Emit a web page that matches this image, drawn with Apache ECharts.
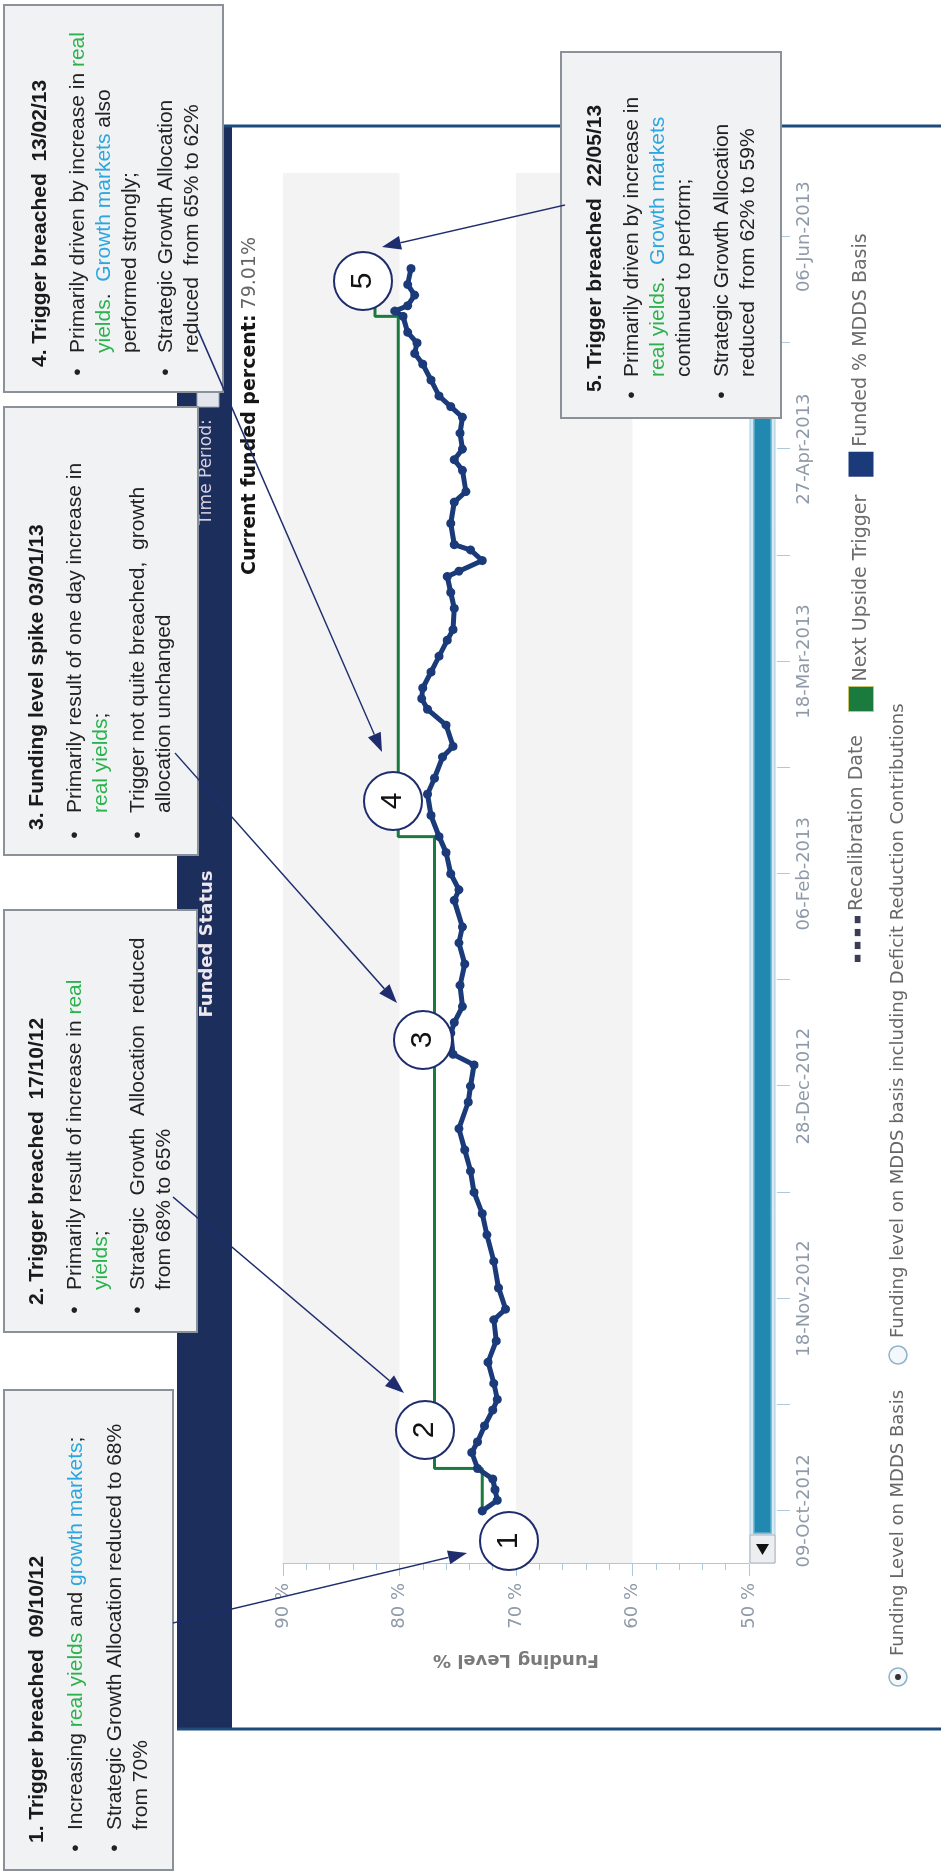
<!DOCTYPE html>
<html>
<head>
<meta charset="utf-8">
<script src="https://cdn.jsdelivr.net/npm/echarts@6/dist/echarts.min.js"></script>
<style>
  html, body { margin: 0; padding: 0; background: #ffffff; width: 941px; height: 1872px; overflow: hidden; }
  /* the widget is laid out landscape and turned a quarter turn anticlockwise */
  #chart { position: absolute; left: 0; top: 0; width: 1872px; height: 941px;
           transform-origin: 0 0; transform: translate(0, 1872px) rotate(-90deg); }
</style>
</head>
<body>
<div id="chart"></div>
<script>
// ---- funding level, MDDS basis (%) ----
const levelDates = [
  '2012-10-09','2012-10-11','2012-10-13','2012-10-15','2012-10-17','2012-10-20','2012-10-22','2012-10-25',
  '2012-10-28','2012-10-30','2012-11-02','2012-11-06','2012-11-10','2012-11-14','2012-11-16','2012-11-20',
  '2012-11-25','2012-11-30','2012-12-04','2012-12-08','2012-12-12','2012-12-16','2012-12-20','2012-12-25',
  '2012-12-28','2013-01-01','2013-01-03','2013-01-07','2013-01-09','2013-01-12','2013-01-16','2013-01-20',
  '2013-01-24','2013-01-27','2013-02-01','2013-02-03','2013-02-06','2013-02-10','2013-02-13','2013-02-17',
  '2013-02-21','2013-02-24','2013-02-28','2013-03-02','2013-03-06','2013-03-09','2013-03-11','2013-03-13',
  '2013-03-16','2013-03-19','2013-03-22','2013-03-24','2013-03-28','2013-03-31','2013-04-03','2013-04-04',
  '2013-04-06','2013-04-08','2013-04-09','2013-04-13','2013-04-17','2013-04-19','2013-04-23','2013-04-25',
  '2013-04-27','2013-04-30','2013-05-03','2013-05-05','2013-05-07','2013-05-10','2013-05-13','2013-05-15',
  '2013-05-17','2013-05-19','2013-05-22','2013-05-23','2013-05-24','2013-05-26','2013-05-28','2013-05-31'
];
const levelValues = [
  72.9, 71.6, 71.8, 72.0, 73.3, 73.8, 73.3, 72.7,
  72.0, 71.6, 71.9, 72.4, 71.7, 71.9, 70.9, 71.5,
  71.9, 72.5, 72.9, 73.6, 73.9, 74.4, 74.9, 74.1,
  73.9, 73.6, 75.4, 75.6, 75.3, 74.6, 74.8, 74.4,
  74.9, 74.6, 75.3, 74.9, 75.6, 76.0, 76.6, 77.3,
  77.6, 77.0, 76.3, 75.4, 76.0, 77.6, 78.1, 78.0,
  77.3, 76.6, 75.9, 75.4, 75.3, 75.6, 75.9, 74.9,
  72.9, 73.9, 75.3, 75.6, 75.3, 74.3, 74.6, 75.3,
  74.6, 74.8, 74.6, 75.6, 76.6, 77.3, 78.0, 78.7,
  78.5, 79.3, 79.7, 80.4, 79.3, 78.7, 79.3, 79.01
];

// ---- next upside trigger (%), changes on breach dates ----
const triggerDates  = ['2012-10-09', '2012-10-17', '2013-02-13', '2013-05-22', '2013-05-31'];
const triggerValues = [72.9, 77.0, 80.1, 82.1, 82.1];

// ---- axis ticks ----
const tickDates  = ['2012-10-09','2012-10-29','2012-11-18','2012-12-08','2012-12-28','2013-01-17','2013-02-06',
                    '2013-02-26','2013-03-18','2013-04-07','2013-04-27','2013-05-17','2013-06-06'];
const labelDates = ['2012-10-09','2012-11-18','2012-12-28','2013-02-06','2013-03-18','2013-04-27','2013-06-06'];
const axisStart = '2012-09-29';
const axisEnd   = '2013-06-18';
const levelMin = 50, levelMax = 90, levelStep = 10;

// ---- helpers ----
const MONTHS = ['Jan','Feb','Mar','Apr','May','Jun','Jul','Aug','Sep','Oct','Nov','Dec'];
function ts(s) { const p = s.split('-').map(Number); return new Date(p[0], p[1] - 1, p[2]).getTime(); }
function fmtDate(v) {
  const d = new Date(v);
  return String(d.getDate()).padStart(2, '0') + '-' + MONTHS[d.getMonth()] + '-' + d.getFullYear();
}
const levelData   = levelDates.map((d, i) => [ts(d), levelValues[i]]);
const triggerData = triggerDates.map((d, i) => [ts(d), triggerValues[i]]);
const currentLevel = levelValues[levelValues.length - 1];

const NAVY = '#1f2d6e';
const UI_FONT = 'DejaVu Sans, Verdana, sans-serif';
const NOTE_FONT = 'Liberation Sans, Arial, Helvetica, sans-serif';
const GREEN_TXT = '#2bb24c', BLUE_TXT = '#2ba6de';

// ---- annotation boxes (canvas is landscape; x runs along the page height) ----
const noteRich = {
  g: { fill: GREEN_TXT, font: '21px ' + NOTE_FONT },
  b: { fill: BLUE_TXT,  font: '21px ' + NOTE_FONT }
};
const notes = [
  { box: [2, 4, 480, 169], title: '1. Trigger breached  09/10/12', tx: 29, ty: 37, bx: 24, lx: 42,
    bullets: [
      [76,  ['Increasing {g|real yields} and {b|growth markets};']],
      [115, ['Strategic Growth Allocation reduced to 68%', 'from 70%']]
    ] },
  { box: [540, 4, 422, 193], title: '2. Trigger breached  17/10/12', tx: 567, ty: 37, bx: 562, lx: 582,
    bullets: [
      [75,  ['Primarily result of increase in {g|real}', '{g|yields};']],
      [138, ['Strategic  Growth  Allocation  reduced', 'from 68% to 65%']]
    ] },
  { box: [1017, 4, 448, 194], title: '3. Funding level spike 03/01/13', tx: 1042, ty: 37, bx: 1037, lx: 1059,
    bullets: [
      [75,  ['Primarily result of one day increase in', '{g|real yields};']],
      [138, ['Trigger not quite breached,  growth', 'allocation unchanged']]
    ] },
  { box: [1480, 4, 387, 219], title: '4. Trigger breached  13/02/13', tx: 1505, ty: 40, bx: 1500, lx: 1519,
    bullets: [
      [78,  ['Primarily driven by increase in {g|real}', '{g|yields}.  {b|Growth markets} also', 'performed strongly;']],
      [166, ['Strategic Growth Allocation', 'reduced  from 65% to 62%']]
    ] },
  { box: [1454, 561, 366, 220], title: '5. Trigger breached  22/05/13', tx: 1480, ty: 595, bx: 1477, lx: 1495,
    bullets: [
      [632, ['Primarily driven by increase in', '{g|real yields}.  {b|Growth markets}', 'continued to perform;']],
      [722, ['Strategic Growth Allocation', 'reduced  from 62% to 59%']]
    ] }
];
const LINE_STEP = 26;

// numbered markers and their arrows
const markers = [
  { n: '1', cx: 331,  cy: 509 },
  { n: '2', cx: 442,  cy: 425 },
  { n: '3', cx: 832,  cy: 423 },
  { n: '4', cx: 1071, cy: 393 },
  { n: '5', cx: 1591, cy: 363 }
];
const arrows = [
  [249, 173, 319, 467],
  [675, 173, 479, 404],
  [1119, 175, 869, 397],
  [1542, 198, 1120, 382],
  [1667, 565, 1625, 382]
];

function arrowEls(a) {
  const [x1, y1, x2, y2] = a;
  const ang = Math.atan2(y2 - y1, x2 - x1), L = 19, W = 7;
  const bx = x2 - L * Math.cos(ang), by = y2 - L * Math.sin(ang);
  const nx = -Math.sin(ang) * W, ny = Math.cos(ang) * W;
  return [
    { type: 'line', z: 60, shape: { x1, y1, x2: bx, y2: by }, style: { stroke: NAVY, lineWidth: 1.4 } },
    { type: 'polygon', z: 60, shape: { points: [[x2, y2], [bx + nx, by + ny], [bx - nx, by - ny]] }, style: { fill: NAVY } }
  ];
}

const graphics = [];
// widget frame: header strip and borders
graphics.push({ type: 'rect', z: 1, shape: { x: 143, y: 177, width: 1603, height: 55 }, style: { fill: '#1b2e5c' } });
graphics.push({ type: 'line', z: 2, shape: { x1: 143, y1: 177, x2: 143, y2: 941 }, style: { stroke: '#1f4a7c', lineWidth: 3 } });
graphics.push({ type: 'line', z: 2, shape: { x1: 1746, y1: 177, x2: 1746, y2: 941 }, style: { stroke: '#1f4a7c', lineWidth: 3 } });
graphics.push({ type: 'text', z: 3, x: 928, y: 207, style: { text: 'Funded Status', fill: '#efe7ef', font: 'bold 18px ' + UI_FONT, align: 'center', verticalAlign: 'middle' } });
graphics.push({ type: 'text', z: 3, x: 1347, y: 207, style: { text: 'Time Period:', fill: '#d6d0de', font: '17px ' + UI_FONT, align: 'left', verticalAlign: 'middle' } });
graphics.push({ type: 'rect', z: 3, shape: { x: 1465, y: 197, width: 40, height: 22 }, style: { fill: '#e2e6ec', stroke: '#9aa4b2', lineWidth: 1 } });

// horizontal scroll bar under the plot
graphics.push({ type: 'rect', z: 5, shape: { x: 309, y: 750, width: 1390, height: 25 }, style: { fill: '#d7e9f2', stroke: '#a7cde0', lineWidth: 1 } });
graphics.push({ type: 'rect', z: 6, shape: { x: 339, y: 754, width: 1331, height: 17 }, style: { fill: '#2189b0', stroke: '#63b0cf', lineWidth: 1.5 } });
graphics.push({ type: 'rect', z: 6, shape: { x: 309, y: 750, width: 28, height: 25 }, style: { fill: '#eceef1', stroke: '#a9b4bf', lineWidth: 1 } });
graphics.push({ type: 'polygon', z: 7, shape: { points: [[317, 762.5], [328, 756], [328, 769]] }, style: { fill: '#111' } });
graphics.push({ type: 'rect', z: 6, shape: { x: 1671, y: 750, width: 28, height: 25 }, style: { fill: '#eceef1', stroke: '#a9b4bf', lineWidth: 1 } });

// data-source options row
graphics.push({ type: 'circle', z: 5, shape: { cx: 195, cy: 898, r: 9 }, style: { fill: '#f4f8fb', stroke: '#8fb3ca', lineWidth: 1.5 } });
graphics.push({ type: 'circle', z: 6, shape: { cx: 195, cy: 898, r: 3 }, style: { fill: '#333' } });
graphics.push({ type: 'text', z: 5, x: 216, y: 898, style: { text: 'Funding Level on MDDS Basis', fill: '#666', font: '18px ' + UI_FONT, verticalAlign: 'middle' } });
graphics.push({ type: 'circle', z: 5, shape: { cx: 517, cy: 898, r: 9 }, style: { fill: '#f4f8fb', stroke: '#8fb3ca', lineWidth: 1.5 } });
graphics.push({ type: 'text', z: 5, x: 534, y: 898, style: { text: 'Funding level on MDDS basis including Deficit Reduction Contributions', fill: '#666', font: '18px ' + UI_FONT, verticalAlign: 'middle' } });

// annotation boxes
notes.forEach(nt => {
  const [x, y, w, h] = nt.box;
  graphics.push({ type: 'rect', z: 50, shape: { x, y, width: w, height: h }, style: { fill: '#f1f2f4', stroke: '#8b9198', lineWidth: 2 } });
  graphics.push({ type: 'text', z: 51, x: nt.tx, y: nt.ty, style: { text: nt.title, fill: '#1a1a1a', font: 'bold 21px ' + NOTE_FONT, verticalAlign: 'middle' } });
  nt.bullets.forEach(([by, lines]) => {
    graphics.push({ type: 'text', z: 51, x: nt.bx, y: by, style: { text: '\u2022', fill: '#222', font: '21px ' + NOTE_FONT, align: 'center', verticalAlign: 'middle' } });
    lines.forEach((ln, k) => {
      graphics.push({ type: 'text', z: 51, x: nt.lx, y: by + k * LINE_STEP,
        style: { text: ln, fill: '#222', font: '21px ' + NOTE_FONT, verticalAlign: 'middle', rich: noteRich } });
    });
  });
});
arrows.forEach(a => graphics.push(...arrowEls(a)));
markers.forEach(m => {
  graphics.push({ type: 'circle', z: 70, shape: { cx: m.cx, cy: m.cy, r: 29 }, style: { fill: '#ffffff', stroke: NAVY, lineWidth: 2 } });
  graphics.push({ type: 'text', z: 71, x: m.cx, y: m.cy, style: { text: m.n, fill: '#111', font: '30px ' + NOTE_FONT, align: 'center', verticalAlign: 'middle' } });
});

const chart = echarts.init(document.getElementById('chart'), null, { renderer: 'canvas' });
chart.setOption({
  animation: false,
  backgroundColor: '#ffffff',
  title: {
    left: 1297, top: 241,
    text: '{b|Current funded percent:} {v|' + currentLevel.toFixed(2) + '%}',
    textStyle: { fontWeight: 'normal', rich: {
      b: { fontFamily: UI_FONT, fontWeight: 'bold', fontSize: 19, color: '#151515' },
      v: { fontFamily: UI_FONT, fontWeight: 'normal', fontSize: 19, color: '#666' }
    } },
    padding: 0
  },
  legend: [
    { left: 910, top: 848, padding: 0, itemWidth: 46, itemHeight: 25, selectedMode: false,
      textStyle: { color: '#6b6b6b', fontSize: 19, fontFamily: UI_FONT },
      data: [{ name: 'Recalibration Date', icon: 'path://M0,0h5v4h-5zM9,0h5v4h-5zM18,0h5v4h-5zM27,0h5v4h-5z', itemStyle: { color: '#3a3d55' } }] },
    { left: 1160, top: 848, padding: 0, itemWidth: 25, itemHeight: 25, itemGap: 18, selectedMode: false,
      textStyle: { color: '#6b6b6b', fontSize: 19, fontFamily: UI_FONT },
      data: [
        { name: 'Next Upside Trigger', icon: 'rect', itemStyle: { color: '#1b7a3e', borderColor: '#c9c36a', borderWidth: 1 } },
        { name: 'Funded % MDDS Basis', icon: 'rect', itemStyle: { color: '#1a3a7a' } }
      ] }
  ],
  grid: { left: 308, right: 173, top: 283, bottom: 192, containLabel: false },
  xAxis: {
    type: 'value', min: ts(axisStart), max: ts(axisEnd), offset: 28,
    axisLine: { show: false },
    axisTick: { show: true, length: 13, lineStyle: { color: '#a9cbe0' }, customValues: tickDates.map(ts) },
    axisLabel: { customValues: labelDates.map(ts), formatter: v => fmtDate(v), color: '#8e9aa8',
                 fontSize: 18, fontFamily: UI_FONT, margin: 18, hideOverlap: false },
    splitLine: { show: false }
  },
  yAxis: {
    type: 'value', min: levelMin, max: levelMax, interval: levelStep,
    name: 'Funding Level %', nameLocation: 'middle', nameGap: 87,
    nameTextStyle: { color: '#7a7a7a', fontWeight: 'bold', fontSize: 18, fontFamily: UI_FONT },
    axisLine: { show: true, lineStyle: { color: '#a9cbe0' } },
    axisTick: { show: true, length: 12, lineStyle: { color: '#a9cbe0' } },
    minorTick: { show: true, splitNumber: 5, length: 6, lineStyle: { color: '#a9cbe0' } },
    axisLabel: { formatter: v => v + ' %', color: '#8e9aa8', fontSize: 18, fontFamily: UI_FONT, margin: 19 },
    splitLine: { show: false },
    splitArea: { show: true, areaStyle: { color: ['#ffffff', '#f3f3f3'] } }
  },
  series: [
    { name: 'Recalibration Date', type: 'line', data: [], lineStyle: { type: 'dotted', color: '#3a3d55' } },
    { name: 'Next Upside Trigger', type: 'line', step: 'end', data: triggerData, symbol: 'none',
      lineStyle: { color: '#1b7a3e', width: 3 }, itemStyle: { color: '#1b7a3e' }, z: 3 },
    { name: 'Funded % MDDS Basis', type: 'line', data: levelData, symbol: 'circle', symbolSize: 9, showAllSymbol: true,
      lineStyle: { color: '#1a3a7a', width: 5 }, itemStyle: { color: '#1a3a7a' }, z: 4 }
  ],
  graphic: graphics
});
</script>
</body>
</html>
